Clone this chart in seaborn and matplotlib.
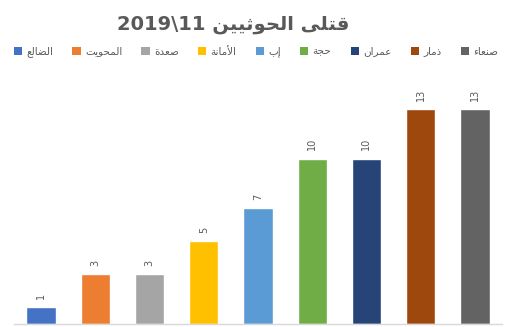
import re
import matplotlib
matplotlib.use("Agg")
import matplotlib.pyplot as plt
from matplotlib.patches import Patch
import seaborn as sns
import pandas as pd

# ---- data ----
categories = ["الضالع", "المحويت", "صعدة", "الأمانة", "إب", "حجة", "عمران", "ذمار", "صنعاء"]
values = [1, 3, 3, 5, 7, 10, 10, 13, 13]
colors = ["#4472C4", "#ED7D31", "#A5A5A5", "#FFC000", "#5B9BD5",
          "#70AD47", "#264478", "#9E480E", "#636363"]
title_text = "قتلى الحوثيين 11\\2019"

# ---- minimal Arabic shaping (presentation forms) + visual ordering ----
FORMS = {
    '\u0621': ('\uFE80', None, None, None),
    '\u0622': ('\uFE81', '\uFE82', None, None),
    '\u0623': ('\uFE83', '\uFE84', None, None),
    '\u0625': ('\uFE87', '\uFE88', None, None),
    '\u0627': ('\uFE8D', '\uFE8E', None, None),
    '\u0628': ('\uFE8F', '\uFE90', '\uFE91', '\uFE92'),
    '\u0629': ('\uFE93', '\uFE94', None, None),
    '\u062A': ('\uFE95', '\uFE96', '\uFE97', '\uFE98'),
    '\u062B': ('\uFE99', '\uFE9A', '\uFE9B', '\uFE9C'),
    '\u062C': ('\uFE9D', '\uFE9E', '\uFE9F', '\uFEA0'),
    '\u062D': ('\uFEA1', '\uFEA2', '\uFEA3', '\uFEA4'),
    '\u062E': ('\uFEA5', '\uFEA6', '\uFEA7', '\uFEA8'),
    '\u062F': ('\uFEA9', '\uFEAA', None, None),
    '\u0630': ('\uFEAB', '\uFEAC', None, None),
    '\u0631': ('\uFEAD', '\uFEAE', None, None),
    '\u0632': ('\uFEAF', '\uFEB0', None, None),
    '\u0633': ('\uFEB1', '\uFEB2', '\uFEB3', '\uFEB4'),
    '\u0634': ('\uFEB5', '\uFEB6', '\uFEB7', '\uFEB8'),
    '\u0635': ('\uFEB9', '\uFEBA', '\uFEBB', '\uFEBC'),
    '\u0636': ('\uFEBD', '\uFEBE', '\uFEBF', '\uFEC0'),
    '\u0637': ('\uFEC1', '\uFEC2', '\uFEC3', '\uFEC4'),
    '\u0638': ('\uFEC5', '\uFEC6', '\uFEC7', '\uFEC8'),
    '\u0639': ('\uFEC9', '\uFECA', '\uFECB', '\uFECC'),
    '\u063A': ('\uFECD', '\uFECE', '\uFECF', '\uFED0'),
    '\u0641': ('\uFED1', '\uFED2', '\uFED3', '\uFED4'),
    '\u0642': ('\uFED5', '\uFED6', '\uFED7', '\uFED8'),
    '\u0643': ('\uFED9', '\uFEDA', '\uFEDB', '\uFEDC'),
    '\u0644': ('\uFEDD', '\uFEDE', '\uFEDF', '\uFEE0'),
    '\u0645': ('\uFEE1', '\uFEE2', '\uFEE3', '\uFEE4'),
    '\u0646': ('\uFEE5', '\uFEE6', '\uFEE7', '\uFEE8'),
    '\u0647': ('\uFEE9', '\uFEEA', '\uFEEB', '\uFEEC'),
    '\u0648': ('\uFEED', '\uFEEE', None, None),
    '\u0649': ('\uFEEF', '\uFEF0', None, None),
    '\u064A': ('\uFEF1', '\uFEF2', '\uFEF3', '\uFEF4'),
}
LAM_ALEF = {'\u0622': ('\uFEF5', '\uFEF6'), '\u0623': ('\uFEF7', '\uFEF8'),
            '\u0625': ('\uFEF9', '\uFEFA'), '\u0627': ('\uFEFB', '\uFEFC')}


def shape(text):
    toks = []
    i = 0
    while i < len(text):
        c = text[i]
        if c == '\u0644' and i + 1 < len(text) and text[i + 1] in LAM_ALEF:
            iso, fin = LAM_ALEF[text[i + 1]]
            toks.append((iso, fin, None, None))
            i += 2
        elif c in FORMS:
            toks.append(FORMS[c])
            i += 1
        else:
            toks.append(c)
            i += 1
    out = []
    for k, t in enumerate(toks):
        if isinstance(t, str):
            out.append(t)
            continue
        prev = toks[k - 1] if k > 0 else None
        nxt = toks[k + 1] if k + 1 < len(toks) else None
        jp = isinstance(prev, tuple) and prev[2] is not None and t[1] is not None
        jn = isinstance(nxt, tuple) and t[2] is not None and nxt[1] is not None
        if jp and jn:
            out.append(t[3])
        elif jp:
            out.append(t[1])
        elif jn:
            out.append(t[2])
        else:
            out.append(t[0])
    return "".join(out)


def visual(text):
    s = shape(text)[::-1]
    return re.sub(r'[0-9A-Za-z]+', lambda m: m.group()[::-1], s)


# ---- figure ----
sns.set_theme(style="white")
plt.rcParams['font.family'] = ['DejaVu Sans']

W, H = 515, 327
fig = plt.figure(figsize=(W / 100, H / 100), dpi=100)
ax = fig.add_axes([14 / W, 3 / H, 488 / W, 231.5 / H])

df = pd.DataFrame({"cat": categories, "val": values})
sns.barplot(data=df, x="cat", y="val", hue="cat", palette=colors,
            order=categories, hue_order=categories, dodge=False,
            width=0.54, legend=False, ax=ax, saturation=1)

for cont in ax.containers:
    ax.bar_label(cont, fmt="%d", rotation=90, padding=6, fontsize=7,
                 color="#595959")

ax.set_ylim(0, 14)
ax.set_xlim(-0.5, len(categories) - 0.5)
ax.set_xlabel("")
ax.set_ylabel("")
ax.set_xticks([])
ax.set_yticks([])
for side in ["top", "left", "right"]:
    ax.spines[side].set_visible(False)
ax.spines["bottom"].set_color("#D9D9D9")
ax.spines["bottom"].set_linewidth(1.0)

fig.text(233 / W, 1 - 25 / H, visual(title_text), ha="center", va="center",
         fontsize=14, fontweight="bold", color="#595959")

handles = [Patch(facecolor=c, edgecolor="none") for c in colors]
labels = [visual(c) for c in categories]
fig.legend(handles, labels, loc="center", bbox_to_anchor=(256 / W, 1 - 52 / H),
           ncol=len(categories), frameon=False, fontsize=7.5,
           handlelength=0.8, handleheight=0.8, handletextpad=0.4,
           columnspacing=1.85, labelcolor="#595959")

fig.savefig("out.png", dpi=100, facecolor="white")
